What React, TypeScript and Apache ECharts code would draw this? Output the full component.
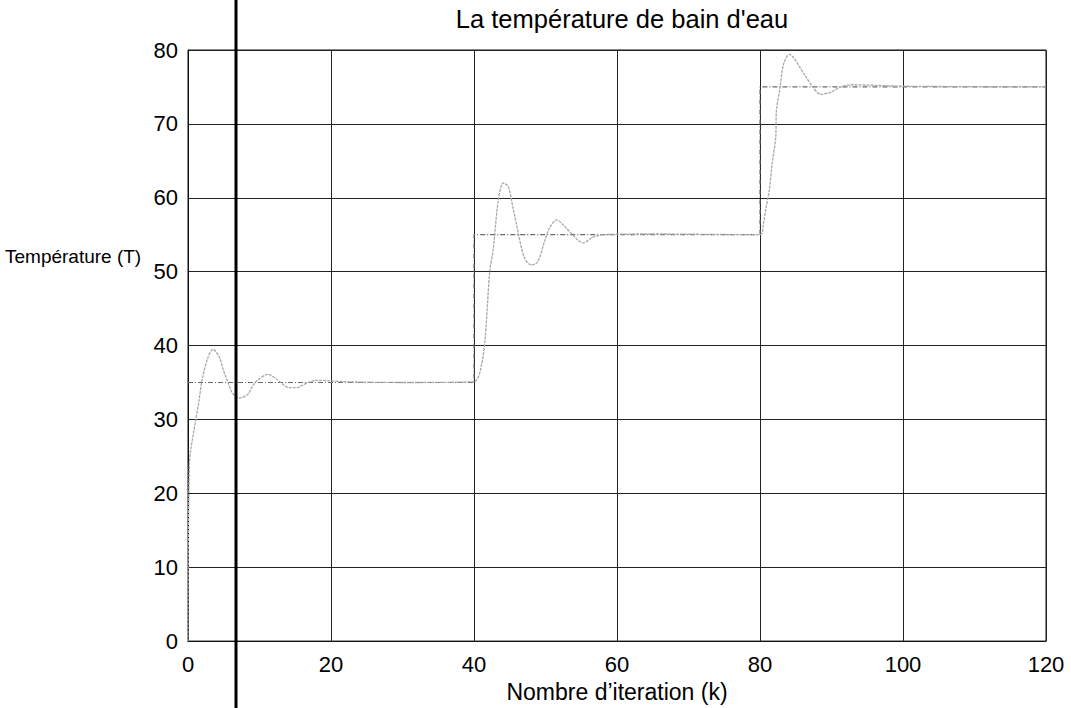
import React, { useEffect, useRef } from "react";
import * as echarts from "echarts";

const titleText = "La température de bain d'eau";
const xAxisName = "Nombre d\u2019iteration (k)";
const yAxisName = "Température (T)";

const xMin = 0;
const xMax = 120;
const xStep = 20;
const yMin = 0;
const yMax = 80;
const yStep = 10;

// consigne (setpoint) staircase
const setpointK = [0, 40, 40, 80, 80, 120];
const setpointT = [35, 35, 55, 55, 75, 75];

// measured bath temperature (response)
const responseK = [
  0, 0.2, 1, 1.5, 2, 2.8, 3.5, 4.4, 4.9, 5.6, 6.2, 7.2, 8.4, 8.9, 9.6, 11.2, 12.3, 14.2, 15.1, 16.8, 18, 22, 30, 40,
  40.8, 41.5, 42.2, 42.7, 43.4, 44.1, 44.8, 45.5, 45.9, 47, 48, 48.9, 49.9, 50.6, 51.6, 52.5, 54.4, 55.3, 56.5, 58, 65, 80,
  80.5, 80.8, 81.3, 81.7, 82.2, 82.3, 82.8, 83.3, 84.1, 86.2, 87.3, 88.5, 89.9, 91.3, 92.7, 100, 120,
];
const responseT = [
  0, 24, 29.5, 32.3, 35.5, 38.4, 39.5, 38.4, 36.8, 35, 33.6, 32.9, 33.4, 34.3, 35.2, 36.1, 35.5, 34.3, 34.3, 35, 35.3, 35.1, 35, 35.1,
  36.3, 40.3, 50, 53.1, 59.7, 62, 61.5, 58.4, 56.6, 52, 50.9, 51.3, 54.2, 56, 57, 56.3, 54.4, 53.9, 54.6, 55, 55.1, 55,
  56.6, 58.4, 61, 64.6, 68.2, 71.8, 74.9, 78.1, 79.4, 76.7, 75.1, 74, 74.3, 75, 75.3, 75.1, 75,
];

const FONT = "'Liberation Sans', Arial, Helvetica, sans-serif";

export default function App() {
  const ref = useRef<HTMLDivElement>(null);
  useEffect(() => {
    if (!ref.current) return;
    const chart = echarts.init(ref.current, null, { renderer: "svg" });
    const setpointData = setpointK.map((k, i) => [k, setpointT[i]]);
    const responseData = responseK.map((k, i) => [k, responseT[i]]);
    chart.setOption({
      animation: false,
      backgroundColor: "#ffffff",
      title: {
        text: titleText,
        left: 617,
        textAlign: "center",
        top: 1,
        textStyle: { fontFamily: FONT, fontSize: 25.5, fontWeight: "normal", color: "#000" },
      },
      grid: {
        left: 188,
        right: 25,
        top: 50,
        bottom: 60,
        show: true,
        borderColor: "#111",
        borderWidth: 1,
        backgroundColor: "transparent",
      },
      xAxis: {
        type: "value",
        min: xMin,
        max: xMax,
        interval: xStep,
        name: xAxisName,
        nameLocation: "middle",
        nameGap: 30,
        nameTextStyle: { fontFamily: FONT, fontSize: 23, color: "#000" },
        axisLine: { show: true, lineStyle: { color: "#111", width: 1 } },
        axisTick: { show: false },
        axisLabel: { fontFamily: FONT, fontSize: 22, color: "#000", margin: 12 },
        splitLine: { show: true, lineStyle: { color: "#222", width: 1 } },
      },
      yAxis: {
        type: "value",
        min: yMin,
        max: yMax,
        interval: yStep,
        axisLine: { show: true, lineStyle: { color: "#111", width: 1 } },
        axisTick: { show: false },
        axisLabel: { fontFamily: FONT, fontSize: 22, color: "#000", margin: 10 },
        splitLine: { show: true, lineStyle: { color: "#222", width: 1 } },
      },
      graphic: [
        {
          type: "text",
          left: 5,
          top: 247,
          style: { text: yAxisName, font: `19px ${FONT}`, fill: "#000" },
          z: 10,
        },
        {
          type: "line",
          shape: { x1: 236, y1: 0, x2: 236, y2: 708 },
          style: { stroke: "#000", lineWidth: 3 },
          z: 20,
        },
      ],
      series: [
        {
          name: "consigne",
          type: "line",
          data: setpointData,
          showSymbol: false,
          symbol: "none",
          lineStyle: { color: "#6a6a6a", width: 1.2, type: [5, 2, 1, 2] },
          z: 3,
        },
        {
          name: "temperature",
          type: "line",
          data: responseData,
          showSymbol: false,
          symbol: "none",
          smooth: 0.3,
          lineStyle: { color: "#a8a8a8", width: 1.3, type: [3, 1] },
          z: 4,
        },
      ],
    });
    return () => chart.dispose();
  }, []);
  return (
    <div
      ref={ref}
      style={{ position: "fixed", left: 0, top: 0, width: 1071, height: 708, background: "#fff" }}
    />
  );
}
